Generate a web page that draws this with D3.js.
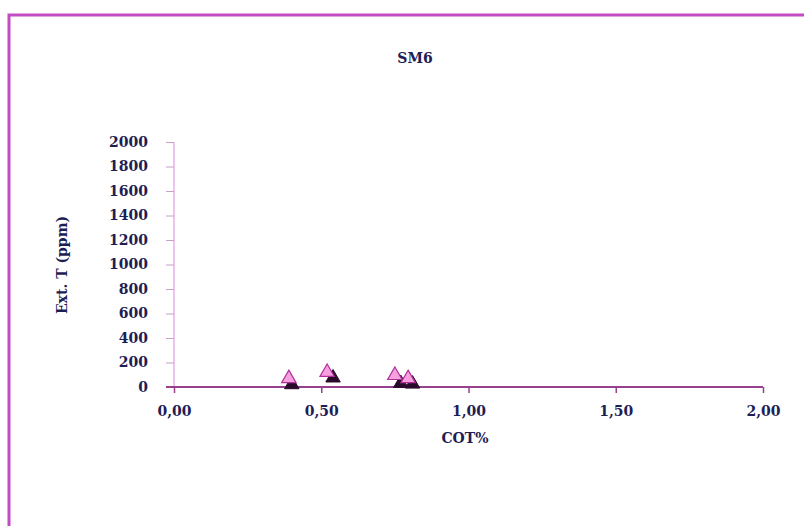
<!DOCTYPE html>
<html><head><meta charset="utf-8">
<script src="https://cdn.jsdelivr.net/npm/d3@7"></script>
<style>body{margin:0;background:#fff}svg{display:block}</style>
</head><body>
<svg id="c" width="804" height="526"></svg>
<script>
const title = "SM6";
const xTitle = "COT%";
const yTitle = "Ext. T (ppm)";
const xTicks = [0, 0.5, 1, 1.5, 2];
const yTicks = [0,200,400,600,800,1000,1200,1400,1600,1800,2000];
const seriesBlackX = [0.40, 0.54, 0.77, 0.81];
const seriesBlackY = [20, 75, 30, 25];
const seriesPinkX = [0.39, 0.52, 0.75, 0.795];
const seriesPinkY = [70, 120, 95, 70];

const svg = d3.select("#c");
const font = "'DejaVu Serif', serif";
const txt = "#1e1e56";

// outer border
svg.append("path").attr("d","M9,530 L9,15 L810,15").attr("fill","none")
  .attr("stroke","#c24cc4").attr("stroke-width",3);

const x = d3.scaleLinear().domain([0,2]).range([174,763]);
const y = d3.scaleLinear().domain([0,2000]).range([387,142]);

// y axis
const ya = svg.append("g").attr("transform","translate(174,0)")
  .call(d3.axisLeft(y).tickValues(yTicks).tickSize(8).tickPadding(18).tickFormat(d3.format("d")));
ya.select(".domain").attr("stroke","#e6b0e6").attr("stroke-width",1.5).attr("d","M0,142V387");
ya.selectAll(".tick line").attr("stroke","#c8a0c8");
ya.selectAll("text").attr("font-family",font).attr("font-weight","bold").attr("font-size",14).attr("fill",txt);

// x axis
const xa = svg.append("g").attr("transform","translate(0,387)")
  .call(d3.axisBottom(x).tickValues(xTicks).tickSize(6).tickPadding(13)
    .tickFormat(d => d3.format(".2f")(d).replace(".", ",")));
xa.select(".domain").attr("stroke","#96408e").attr("stroke-width",2).attr("d","M166,0H763");
xa.selectAll(".tick line").attr("stroke","#96408e").attr("stroke-width",1.5);
xa.selectAll("text").attr("font-family",font).attr("font-weight","bold").attr("font-size",14).attr("fill",txt);

// titles
svg.append("text").attr("x",415).attr("y",63).attr("text-anchor","middle")
  .attr("font-family",font).attr("font-weight","bold").attr("font-size",14).attr("fill",txt).text(title);
svg.append("text").attr("x",465).attr("y",443).attr("text-anchor","middle")
  .attr("font-family",font).attr("font-weight","bold").attr("font-size",14).attr("fill",txt).text(xTitle);
svg.append("text").attr("transform","translate(67,265) rotate(-90)").attr("text-anchor","middle")
  .attr("font-family",font).attr("font-weight","bold").attr("font-size",14).attr("fill",txt).text(yTitle);

// markers
const tri = d3.symbol().type(d3.symbolTriangle).size(90);
svg.append("g").selectAll("path").data(seriesBlackX.map((v,i)=>[v,seriesBlackY[i]])).join("path")
  .attr("d",tri).attr("transform",d=>`translate(${x(d[0])},${y(d[1])})`)
  .attr("fill","#2a0a2a").attr("stroke","#2a0a2a").attr("stroke-width",1);
svg.append("g").selectAll("path").data(seriesPinkX.map((v,i)=>[v,seriesPinkY[i]])).join("path")
  .attr("d",tri).attr("transform",d=>`translate(${x(d[0])},${y(d[1])})`)
  .attr("fill","#f7a0e0").attr("stroke","#b0309a").attr("stroke-width",1.2);
</script>
</body></html>
